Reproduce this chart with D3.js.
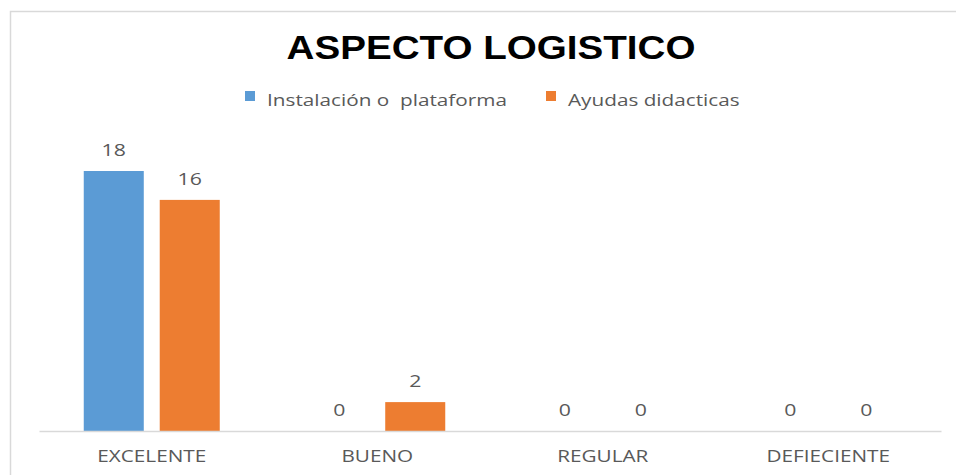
<!DOCTYPE html>
<html>
<head>
<meta charset="utf-8">
<script src="https://cdn.jsdelivr.net/npm/d3@7"></script>
<style>
  body { margin: 0; background: #fff; }
  svg { display: block; }
</style>
</head>
<body>
<script>
// data
var categories = ["EXCELENTE", "BUENO", "REGULAR", "DEFIECIENTE"],
    seriesNames = ["Instalación o  plataforma", "Ayudas didacticas"],
    instalacion = [18, 0, 0, 0],
    ayudas = [16, 2, 0, 0],
    title = "ASPECTO LOGISTICO";

var colors = ["#5B9BD5", "#ED7D31"],
    textGray = "#595959",
    stretch = 1.22; // picture is a bit wider than the fonts

var width = 956, height = 475,
    svg = d3.select("body").append("svg").attr("width", width).attr("height", height);

// chart frame (only left/top edges are visible)
svg.append("rect")
   .attr("x", 10.5).attr("y", 11.5)
   .attr("width", 960).attr("height", 480)
   .attr("fill", "none").attr("stroke", "#D9D9D9").attr("stroke-width", 1.5);

// title
svg.append("text")
   .attr("transform", "translate(491,59) scale(1.17,1)")
   .attr("text-anchor", "middle")
   .style("font-family", "'Liberation Sans', Arial, sans-serif")
   .style("font-weight", "bold")
   .style("font-size", "33px")
   .attr("fill", "#000")
   .text(title);

// scales
var baseline = 431;
var x0 = d3.scaleBand().domain(categories).range([39, 941]),
    x1 = d3.scaleBand().domain(seriesNames).range([0, 136]).paddingInner(0.21),
    y = d3.scaleLinear().domain([0, 18]).range([baseline, 171]);

var rows = categories.map(function(c, i){
  return { cat: c, values: [instalacion[i], ayudas[i]] };
});

var chartGroup = svg.append("g");

var groups = chartGroup.selectAll("g.cat")
   .data(rows)
   .enter().append("g")
     .attr("class", "cat")
     .attr("transform", function(d){
       return "translate(" + (x0(d.cat) + (x0.bandwidth() - 136) / 2) + ",0)";
     });

groups.selectAll("rect")
   .data(function(d){ return d.values.map(function(v, j){ return {s: seriesNames[j], v: v, j: j}; }); })
   .enter().append("rect")
     .filter(function(d){ return d.v > 0; })
     .attr("x", function(d){ return x1(d.s); })
     .attr("width", x1.bandwidth())
     .attr("y", function(d){ return y(d.v); })
     .attr("height", function(d){ return baseline - y(d.v); })
     .attr("fill", function(d){ return colors[d.j]; });

groups.selectAll("text.val")
   .data(function(d){ return d.values.map(function(v, j){ return {s: seriesNames[j], v: v}; }); })
   .enter().append("text")
     .attr("class", "val")
     .attr("transform", function(d){
       return "translate(" + (x1(d.s) + x1.bandwidth() / 2) + "," + (y(d.v) - 15) + ") scale(1.25,1)";
     })
     .attr("text-anchor", "middle")
     .style("font-family", "'Open Sans', sans-serif")
     .style("font-size", "17px")
     .attr("fill", textGray)
     .text(function(d){ return d.v; });

// x axis
var xAxis = d3.axisBottom(x0).tickSize(0).tickPadding(0);
var axisG = chartGroup.append("g")
   .attr("transform", "translate(0," + baseline + ")")
   .call(xAxis);
axisG.select(".domain").attr("stroke", "#D9D9D9").attr("stroke-width", 1.3);
axisG.selectAll(".tick text")
   .attr("y", 0).attr("dy", 0)
   .attr("transform", "translate(0,31) scale(" + stretch + ",1)")
   .style("font-family", "'Open Sans', sans-serif")
   .style("font-size", "17px")
   .attr("fill", textGray);

// legend
var legendPos = [245, 546];
var legend = svg.selectAll("g.legend")
   .data(seriesNames)
   .enter().append("g")
     .attr("class", "legend")
     .attr("transform", function(d, i){ return "translate(" + legendPos[i] + ",91)"; });
legend.append("rect")
   .attr("width", 10).attr("height", 10)
   .attr("fill", function(d, i){ return colors[i]; });
legend.append("text")
   .attr("transform", "translate(22,15) scale(" + stretch + ",1)")
   .style("font-family", "'Open Sans', sans-serif")
   .style("font-size", "17px")
   .style("white-space", "pre")
   .attr("fill", textGray)
   .text(function(d){ return d; });
</script>
</body>
</html>
